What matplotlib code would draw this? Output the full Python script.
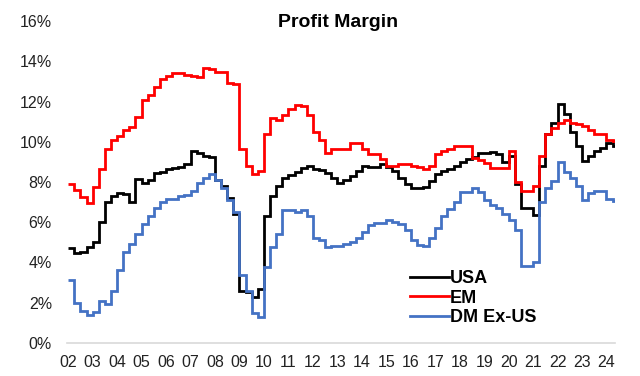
import numpy as np
import matplotlib
matplotlib.use("Agg")
import matplotlib.pyplot as plt

plt.rcParams['font.family'] = ['Liberation Sans', 'DejaVu Sans']

# quarterly profit margins (%), 2002Q1 .. 2024Q2
usa = [4.7, 4.45, 4.5, 4.75,
       5.0, 6.0, 7.0, 7.3,
       7.45, 7.4, 7.0, 8.15,
       7.95, 8.1, 8.45, 8.5,
       8.65, 8.7, 8.75, 8.9,
       9.55, 9.45, 9.3, 9.25,
       8.1, 7.8, 7.2, 6.4,
       2.6, 2.55, 2.3, 2.7,
       6.3, 7.3, 7.8, 8.2,
       8.35, 8.5, 8.7, 8.8,
       8.65, 8.6, 8.45, 8.2,
       7.95, 8.1, 8.3, 8.55,
       8.8, 8.75, 8.75, 8.9,
       8.75, 8.55, 8.2, 7.9,
       7.7, 7.7, 7.75, 8.05,
       8.4, 8.55, 8.65, 8.8,
       9.0, 9.15, 9.25, 9.45,
       9.45, 9.5, 9.4, 9.0,
       9.3, 7.9, 6.7, 6.7,
       6.35, 8.8, 10.4, 10.95,
       11.9, 11.4, 10.5, 9.8,
       9.05, 9.3, 9.55, 9.7,
       9.95, 9.8]

em = [7.9, 7.6, 7.25, 6.95,
      7.75, 8.65, 9.65, 10.1,
      10.3, 10.6, 10.75, 11.25,
      12.1, 12.3, 12.7, 13.1,
      13.25, 13.4, 13.4, 13.3,
      13.25, 13.2, 13.65, 13.6,
      13.45, 13.45, 12.9, 12.85,
      9.65, 8.8, 8.4, 8.55,
      10.4, 11.2, 11.1, 11.35,
      11.65, 11.85, 11.8, 11.35,
      10.5, 10.1, 9.45, 9.65,
      9.65, 9.65, 9.95, 9.95,
      9.65, 9.4, 9.4, 9.15,
      8.8, 8.8, 8.9, 8.9,
      8.8, 8.75, 8.65, 8.8,
      9.4, 9.55, 9.65, 9.8,
      9.8, 9.8, 9.2, 9.1,
      8.95, 8.7, 8.7, 8.7,
      9.55, 8.0, 7.55, 7.55,
      7.8, 9.3, 10.4, 10.7,
      10.95, 11.1, 10.95, 10.9,
      10.8, 10.6, 10.4, 10.4,
      10.1, 10.05]

dm = [3.15, 2.0, 1.6, 1.4,
      1.55, 2.1, 1.95, 2.6,
      3.6, 4.5, 4.9, 5.4,
      5.9, 6.3, 6.7, 7.0,
      7.15, 7.15, 7.3, 7.35,
      7.55, 7.95, 8.2, 8.4,
      8.1, 7.7, 7.1, 6.5,
      3.4, 2.6, 1.5, 1.3,
      3.75, 4.75, 5.4, 6.6,
      6.6, 6.5, 6.6, 6.3,
      5.2, 5.1, 4.75, 4.8,
      4.8, 4.9, 5.0, 5.2,
      5.5, 5.85, 5.95, 5.95,
      6.1, 6.0, 5.9, 5.6,
      5.1, 4.85, 4.8, 5.2,
      5.7, 6.3, 6.65, 7.0,
      7.5, 7.5, 7.7, 7.5,
      7.1, 6.85, 6.7, 6.4,
      6.1, 5.6, 3.8, 3.8,
      4.0, 7.0, 7.7, 8.05,
      9.0, 8.5, 8.2, 7.8,
      7.1, 7.45, 7.55, 7.55,
      7.15, 7.05]

series = [('USA', usa, 'black'), ('EM', em, '#ff0000'), ('DM Ex-US', dm, '#4472c4')]
years = np.arange(2002, 2025)
year_labels = [f'{y % 100:02d}' for y in years]
last_date = 2024.33

fig = plt.figure(figsize=(6.4, 3.76), dpi=100)
ax = fig.add_axes([0.105, 0.088, 0.856, 0.856])

n = len(usa)
edges = np.append(2002 + np.arange(n) / 4, last_date)
for name, vals, col in series:
    ax.stairs(vals, edges, color=col, lw=2.0, label=name, baseline=None)

ax.set_xlim(2001.96, 2024.35)
ax.set_ylim(0, 16)
ax.set_yticks(np.arange(0, 17, 2))
ax.set_yticklabels([f'{v}%' for v in range(0, 17, 2)])
ax.set_xticks(years)
ax.set_xticklabels(year_labels)
ax.tick_params(axis='y', length=0, pad=11, labelsize=11.5, colors='#222222')
ax.tick_params(axis='x', length=0, pad=9, labelsize=11.5, colors='#222222')
for s in ['top', 'right', 'left']:
    ax.spines[s].set_visible(False)
ax.spines['bottom'].set_color('#d9d9d9')
ax.spines['bottom'].set_linewidth(1.2)

fig.text(0.528, 0.94, 'Profit Margin', ha='center', va='center',
         fontsize=14, fontweight='bold')

leg = ax.legend(loc='upper left', bbox_to_anchor=(0.625, 0.225), frameon=False,
                prop={'weight': 'bold', 'size': 13}, handlelength=2.2,
                handletextpad=0.05, labelspacing=0.12, borderpad=0, borderaxespad=0)

fig.savefig('out.png', dpi=100)
